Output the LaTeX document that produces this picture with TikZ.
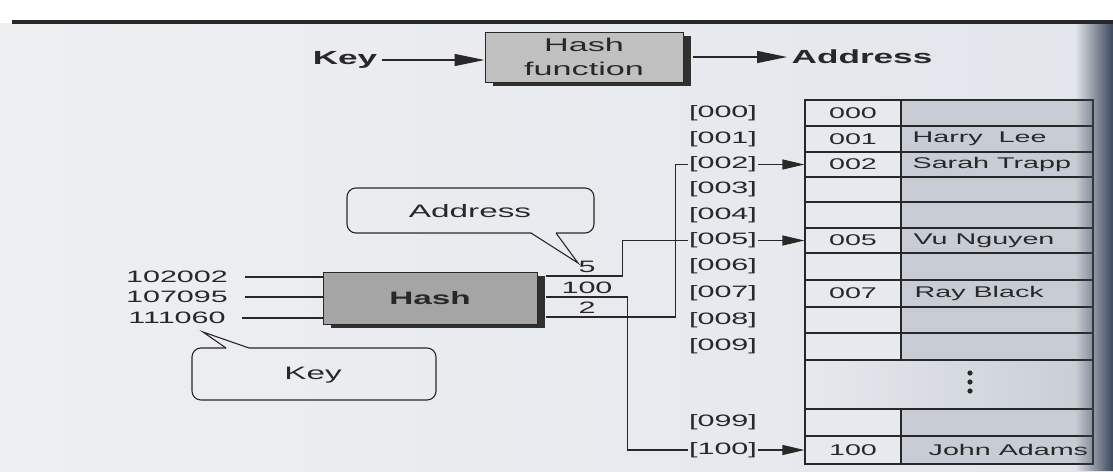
\documentclass[tikz,border=0pt]{standalone}
\usepackage{fontspec}
\setmainfont{Liberation Sans}[FakeStretch=1.85]
\usetikzlibrary{arrows.meta,fadings,calc,shadows}
\definecolor{pagebg}{RGB}{238,239,241}
\definecolor{pagebgR}{RGB}{226,230,236}
\definecolor{edgec}{RGB}{60,72,92}
\definecolor{leftcol}{RGB}{230,233,238}
\definecolor{rightcol}{RGB}{200,205,213}
\definecolor{hfbox}{RGB}{192,192,192}
\definecolor{hbox}{RGB}{165,165,165}
\definecolor{shadowc}{RGB}{48,48,48}
\definecolor{ink}{RGB}{40,40,40}
\tikzfading[name=fadeinright, left color=transparent!100, right color=transparent!0]
\begin{document}
\begin{tikzpicture}[x=1pt,y=-1pt,line width=1.3pt,color=ink,
  tip/.style={-{Triangle[length=30pt,width=12pt]}},
  tipb/.style={-{Triangle[length=22pt,width=10pt]}},
  fnum/.style={font=\fontsize{16.5}{18}\selectfont,inner sep=0pt},
  flab/.style={font=\fontsize{16.5}{18}\selectfont,inner sep=0pt},
  ftab/.style={font=\fontsize{15.5}{17}\selectfont,inner sep=0pt},
  fbig/.style={font=\fontsize{19}{22}\selectfont\bfseries,inner sep=4pt},
  fcall/.style={font=\fontsize{18}{20}\selectfont,inner sep=0pt},
  procbox/.style={draw=ink,line width=1pt,drop shadow={shadow xshift=8pt,shadow yshift=-4pt,fill=shadowc,opacity=1}},
  cellL/.style={draw=ink,line width=1.1pt,fill=leftcol,inner sep=0pt,minimum width=96pt},
  cellR/.style={draw=ink,line width=1.1pt,fill=rightcol,inner sep=0pt,minimum width=192pt},
  callout/.style={draw=ink,line width=1.1pt}]
\useasboundingbox (0,0) rectangle (1113,471);
% page
\fill[white] (0,0) rectangle (1113,24);
\shade[left color=pagebg,right color=pagebgR] (0,23) rectangle (1113,471);
\draw[line width=3.4pt,ink] (12,22) -- (1113,22);

% top: Key -> Hash function -> Address
\node[procbox,fill=hfbox,minimum width=198pt,minimum height=50pt,align=center,
  font=\fontsize{18.5}{24}\selectfont,inner sep=0pt] (hf) at (584,57) {Hash\\function};
\node[fbig] (tkey) at (345,60) {Key};
\node[fbig] (taddr) at (862,57) {Address};
\draw[tip] (tkey.east) -- (tkey.east -| hf.west);
\draw[tip] ([xshift=9pt]hf.east |- taddr.west) -- (taddr.west);

% Hash box
\node[procbox,fill=hbox,minimum width=214pt,minimum height=52pt,
  font=\fontsize{18}{20}\selectfont\bfseries,inner sep=0pt] (hash) at (430,298) {Hash};

% inputs
\node[fnum] (k1) at (177,277) {102002};
\node[fnum] (k2) at (177,297) {107095};
\node[fnum] (k3) at (177,318) {111060};
\foreach \k in {k1,k2,k3}
  \draw[line width=1.1pt] ([xshift=16pt]\k.east) -- (\k.east -| hash.west);

% outputs labels
\node[flab] (v5) at (587,267) {5};
\node[flab] (v100) at (587,288) {100};
\node[flab] (v2) at (587,308) {2};

% table
\foreach \c/\t/\b/\code in {000/100/126/000,001/126/152/001,002/152/177/002,003/177/202/,004/202/228/,005/228/253/005,006/253/280/,007/280/307/007,008/307/333/,009/333/360/,099/409/436/,100/436/464/100}{
  \pgfmathsetmacro\yc{(\t+\b)/2}
  \pgfmathsetmacro\hh{\b-\t}
  \node[cellR,minimum height=\hh pt] (R\c) at (997,\yc) {};
  \node[cellL,minimum height=\hh pt,ftab] (L\c) at (853,\yc) {\code};
  \node[flab] (i\c) at (723,\yc) {[\c]};
}
\node[draw=ink,line width=1.1pt,left color=leftcol,right color=rightcol,minimum width=288pt,minimum height=49pt] (Rdots) at (949,384.5) {};
\foreach \yy in {373,382,391} \fill[ink] (970,\yy) circle (2.6pt);

% names
\node[ftab,anchor=west] (n1) at (912,139) {Harry\ \ Lee};
\node[ftab,anchor=west] (n2) at (912,164.5) {Sarah Trapp};
\node[ftab,anchor=west] (n5) at (913,240.5) {Vu Nguyen};
\node[ftab,anchor=west] (n7) at (914,293.5) {Ray Black};
\node[ftab,anchor=west] (n100) at (928,450) {John Adams};

% connectors from Hash to index labels
\draw[line width=1.1pt] ($(hash.east)+(8,-22)$) -- ++(77,0) |- (i005.west);
\draw[line width=1.1pt] ($(hash.east)+(8,-1)$) -- ++(82,0) |- (i100.west);
\draw[line width=1.1pt] ($(hash.east)+(8,19)$) -- ++(130,0) |- (i002.west);
% arrows into table
\draw[tipb,line width=1.1pt] (i002.east) -- (L002.west);
\draw[tipb,line width=1.1pt] (i005.east) -- (L005.west);
\draw[tipb,line width=1.1pt] (i100.east) -- (L100.west);

% callouts
\node[fcall] (caddr) at (470,211) {Address};
\draw[callout,rounded corners=9pt] (531,233) -- (347,233) -- (347,188) -- (594,188) -- (594,233) -- (556,233);
\draw[callout] (556,233) -- (578,263) -- (531,233);
\node[fcall] (ckey) at (313,375) {Key};
\draw[callout,rounded corners=9pt] (249,348) -- (436,348) -- (436,400) -- (192,400) -- (192,348) -- (226,348);
\draw[callout] (226,348) -- (203,332) -- (249,348);

% scanned page edge
\fill[edgec,path fading=fadeinright] (1075,24) rectangle (1113,471);
\end{tikzpicture}
\end{document}
